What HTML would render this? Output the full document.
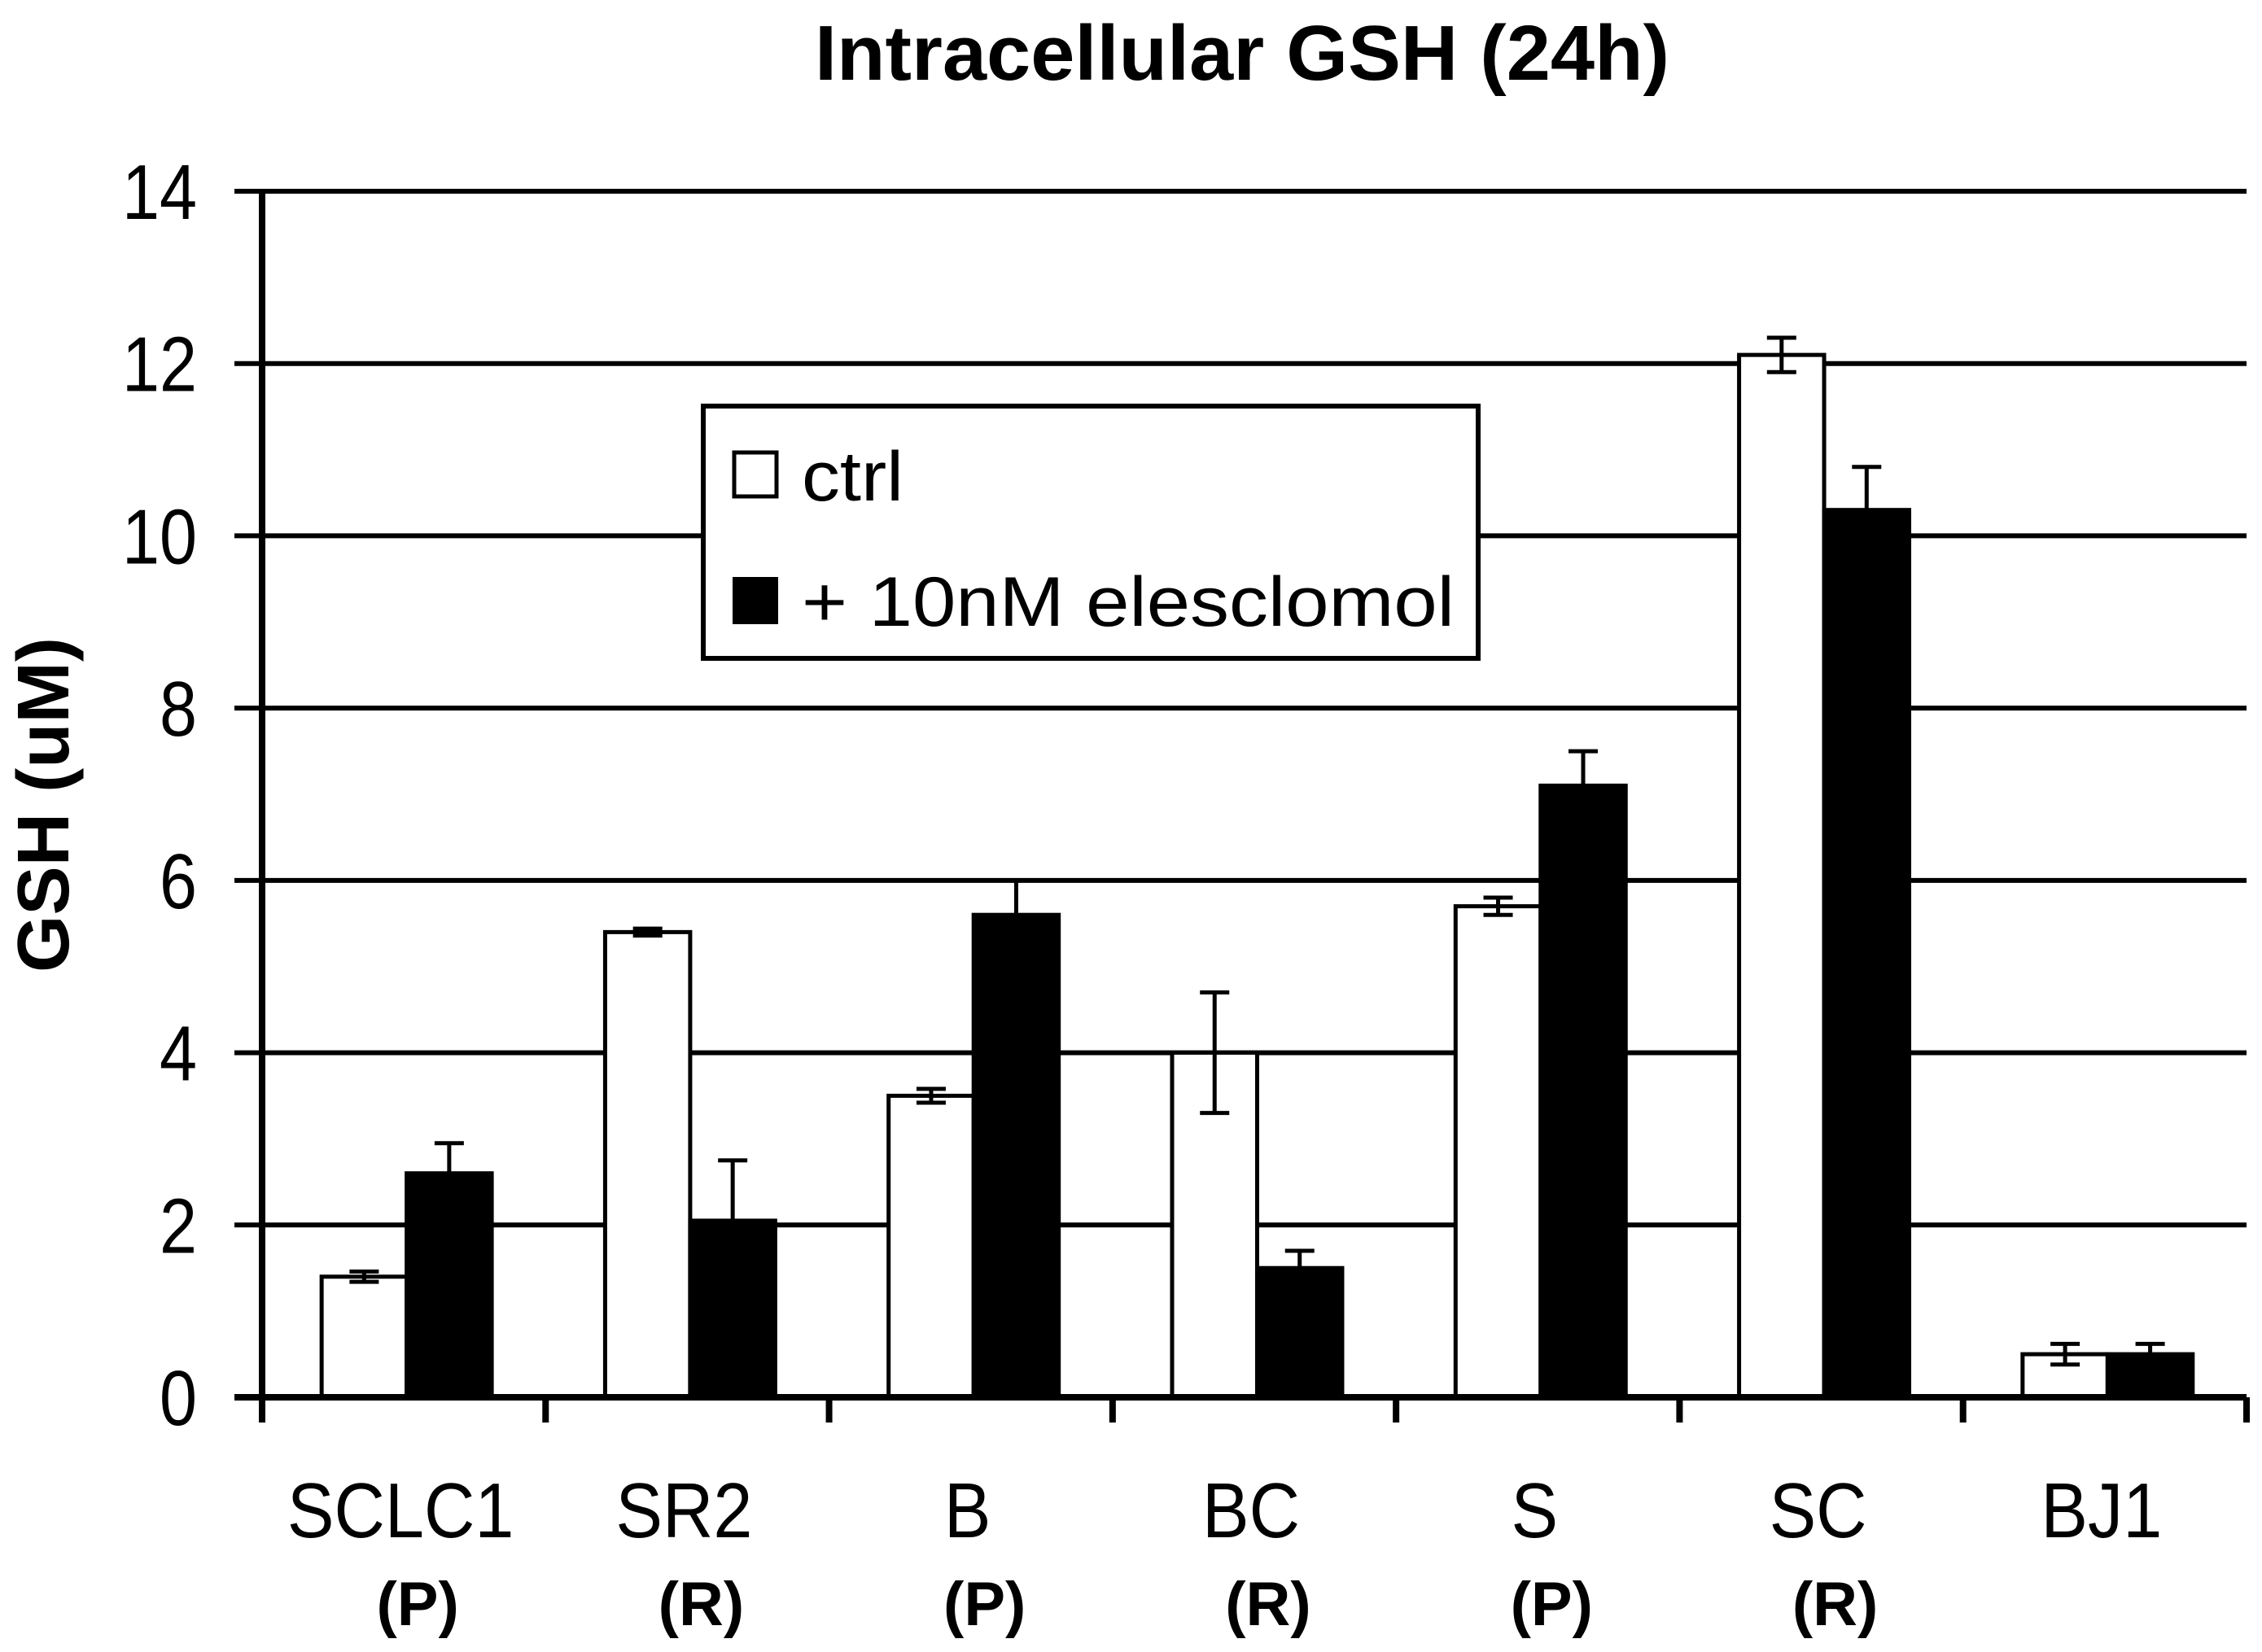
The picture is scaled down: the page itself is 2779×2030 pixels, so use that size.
<!DOCTYPE html>
<html><head><meta charset="utf-8"><style>
html,body{margin:0;padding:0;background:#fff;}
svg{display:block;font-family:"Liberation Sans",Arial,sans-serif;}
</style></head><body>
<svg id="chart" width="2779" height="2030" viewBox="0 0 2779 2030">
<text x="1526" y="98" font-size="96" font-weight="bold" text-anchor="middle" textLength="1050" lengthAdjust="spacingAndGlyphs">Intracellular GSH (24h)</text>
<text transform="translate(84,989) rotate(-90)" font-size="90" font-weight="bold" text-anchor="middle" textLength="412" lengthAdjust="spacingAndGlyphs">GSH (uM)</text>
<g id="grid"></g>
<g id="bars"></g>
<g id="axes"></g>
<g id="legend">
<rect x="864" y="499" width="952" height="310" fill="#fff" stroke="#000" stroke-width="6"/>
<rect x="902" y="556" width="52" height="54" fill="#fff" stroke="#000" stroke-width="5"/>
<text x="985" y="615" font-size="86" textLength="125" lengthAdjust="spacingAndGlyphs">ctrl</text>
<rect x="902" y="711" width="52" height="54" fill="#000" stroke="#000" stroke-width="4"/>
<text x="985" y="769" font-size="86" textLength="802" lengthAdjust="spacingAndGlyphs">+ 10nM elesclomol</text>
</g>
</svg>
<script>
const categories = ["SCLC1","SR2","B","BC","S","SC","BJ1"];
const subLabels = ["(P)","(R)","(P)","(R)","(P)","(R)",""];
const ctrlValues = [1.4,5.4,3.5,4.0,5.7,12.1,0.5];
const ctrlErrors = [0.06,0.04,0.08,0.7,0.1,0.2,0.12];
const eleValues = [2.6,2.05,5.6,1.5,7.1,10.3,0.5];
const eleErrors = [0.35,0.7,0.4,0.2,0.4,0.5,0.12];
const yTicks = [0,2,4,6,8,10,12,14];

const NS="http://www.w3.org/2000/svg";
const X0=322, X1=2760, Y0=1717, Y14=235;
const catW=(X1-X0)/categories.length;
const y=v=>Y0-(v/14)*(Y0-Y14);
const barW=catW*0.3, off=catW*0.21;
function mk(tag,attrs,parent){const e=document.createElementNS(NS,tag);for(const k in attrs)e.setAttribute(k,attrs[k]);parent.appendChild(e);return e;}
const grid=document.getElementById('grid'),bars=document.getElementById('bars'),axes=document.getElementById('axes');
yTicks.forEach(t=>{
  const l=mk('line',{x1:288,x2:X1,y1:y(t),y2:y(t),stroke:'#000','stroke-width':6},grid);
  
  
  const s=String(t);
  const tx=mk('text',{x:242,y:y(t)+34,'font-size':96,'text-anchor':'end',textLength:s.length*46,lengthAdjust:'spacingAndGlyphs'},grid);
  tx.textContent=s;
  
  
});
categories.forEach((c,i)=>{
  const xs=X0+i*catW+off;
  [[ctrlValues[i],ctrlErrors[i],'#fff','ctrl'],[eleValues[i],eleErrors[i],'#000','elesclomol']].forEach((s,j)=>{
    const bx=xs+j*barW;
    const r=mk('rect',{x:bx,y:y(s[0]),width:barW,height:Y0-y(s[0]),fill:s[2],stroke:'#000','stroke-width':5},bars);
    
    
    const cx=bx+barW/2, hi=y(s[0]+s[1]), lo=y(s[0]-s[1]);
    const g=mk('path',{d:`M${cx},${hi}V${lo}M${cx-18},${hi}H${cx+18}M${cx-18},${lo}H${cx+18}`,stroke:'#000','stroke-width':5,fill:'none'},bars);
    
    
  });
  const lx=X0+(i+0.5)*catW;
  const t1=mk('text',{x:lx-4,y:1889,'font-size':96,'text-anchor':'middle'},axes);
  t1.textContent=c;
  
  
  const w=t1.getComputedTextLength();
  t1.setAttribute('textLength',(w*0.9).toFixed(1));
  t1.setAttribute('lengthAdjust','spacingAndGlyphs');
  if(subLabels[i]){
    const t2=mk('text',{x:lx+17,y:1997,'font-size':76,'font-weight':'bold','text-anchor':'middle'},axes);
    t2.textContent=subLabels[i];
    
    
  }
});
for(let i=0;i<=categories.length;i++){
  const xx=X0+i*catW;
  const tk=mk('line',{x1:xx,x2:xx,y1:Y0,y2:1748,stroke:'#000','stroke-width':8},axes);
  
  
}
const ya=mk('line',{x1:X0,x2:X0,y1:Y14,y2:Y0,stroke:'#000','stroke-width':8},axes);


const xa=mk('line',{x1:288,x2:X1,y1:Y0,y2:Y0,stroke:'#000','stroke-width':8},axes);


</script>
</body></html>
